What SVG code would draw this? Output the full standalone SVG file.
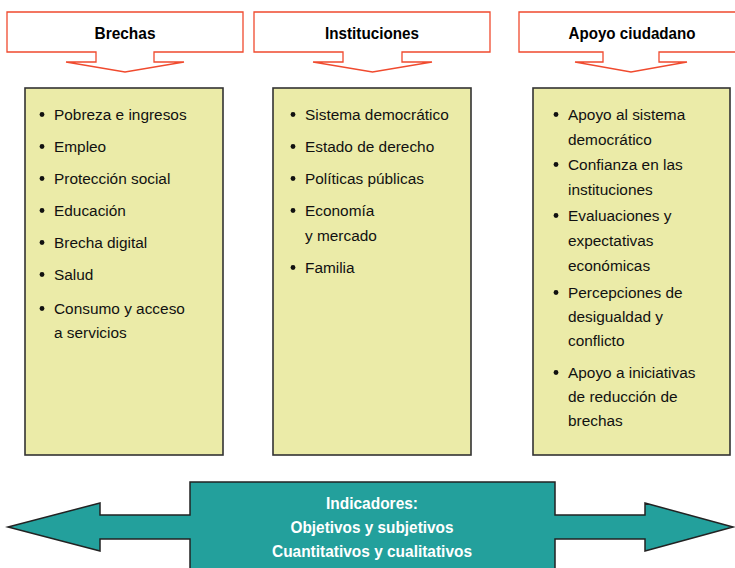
<svg xmlns="http://www.w3.org/2000/svg" width="735" height="568" viewBox="0 0 735 568">
<style>
.hdr{fill:#ffffff;stroke:#f04a2e;stroke-width:1.3}
.htxt{font-family:"Liberation Sans",Arial,sans-serif;font-weight:bold;font-size:17px;fill:#000;text-anchor:middle}
.box{fill:#ebeba8;stroke:#333333;stroke-width:1.6}
.t{font-family:"Liberation Sans",Arial,sans-serif;font-size:15.4px;fill:#111}
.b{fill:#111}
.ind{fill:#23a09c;stroke:#222;stroke-width:1.5}
.itxt{font-family:"Liberation Sans",Arial,sans-serif;font-weight:bold;font-size:16.5px;fill:#fff;text-anchor:middle}
</style>
<rect width="735" height="568" fill="#ffffff"/>

<g id="hdr-brechas">
<path class="hdr" d="M7,12 H243 V52 H154 V62 H184 L125,72 L66,62 H96 V52 H7 Z"/>
<text class="htxt" x="125" y="39" textLength="61" lengthAdjust="spacingAndGlyphs">Brechas</text>
</g>
<g id="hdr-instituciones">
<path class="hdr" d="M254,12 H490 V52 H402 V62 H432 L372.5,72 L313,62 H343 V52 H254 Z"/>
<text class="htxt" x="372" y="39" textLength="94" lengthAdjust="spacingAndGlyphs">Instituciones</text>
</g>
<g id="hdr-apoyo">
<path class="hdr" d="M519,12 H737 V52 H659 V62 H687 L631,72 L575,62 H603 V52 H519 Z"/>
<text class="htxt" x="632" y="39" textLength="127" lengthAdjust="spacingAndGlyphs">Apoyo ciudadano</text>
</g>

<g id="box-brechas">
<rect class="box" x="25" y="88" width="198" height="367"/>
<circle class="b" cx="42" cy="114.5" r="2.4"/><text class="t" x="54" y="120">Pobreza e ingresos</text>
<circle class="b" cx="42" cy="146.5" r="2.4"/><text class="t" x="54" y="152">Empleo</text>
<circle class="b" cx="42" cy="178.5" r="2.4"/><text class="t" x="54" y="184">Protección social</text>
<circle class="b" cx="42" cy="210.5" r="2.4"/><text class="t" x="54" y="216">Educación</text>
<circle class="b" cx="42" cy="242.5" r="2.4"/><text class="t" x="54" y="248">Brecha digital</text>
<circle class="b" cx="42" cy="274.5" r="2.4"/><text class="t" x="54" y="280">Salud</text>
<circle class="b" cx="42" cy="308.5" r="2.4"/><text class="t" x="54" y="314">Consumo y acceso</text>
<text class="t" x="54" y="338">a servicios</text>
</g>

<g id="box-instituciones">
<rect class="box" x="273" y="88" width="198" height="367"/>
<circle class="b" cx="293" cy="114.5" r="2.4"/><text class="t" x="305" y="120">Sistema democrático</text>
<circle class="b" cx="293" cy="146.5" r="2.4"/><text class="t" x="305" y="152">Estado de derecho</text>
<circle class="b" cx="293" cy="178.5" r="2.4"/><text class="t" x="305" y="184">Políticas públicas</text>
<circle class="b" cx="293" cy="210.5" r="2.4"/><text class="t" x="305" y="216">Economía</text>
<text class="t" x="305" y="241">y mercado</text>
<circle class="b" cx="293" cy="267.5" r="2.4"/><text class="t" x="305" y="273">Familia</text>
</g>

<g id="box-apoyo">
<rect class="box" x="533" y="88" width="197" height="367"/>
<circle class="b" cx="556" cy="114.5" r="2.4"/><text class="t" x="568" y="120">Apoyo al sistema</text>
<text class="t" x="568" y="145">democrático</text>
<circle class="b" cx="556" cy="164.5" r="2.4"/><text class="t" x="568" y="170">Confianza en las</text>
<text class="t" x="568" y="195">instituciones</text>
<circle class="b" cx="556" cy="215.5" r="2.4"/><text class="t" x="568" y="221">Evaluaciones y</text>
<text class="t" x="568" y="246">expectativas</text>
<text class="t" x="568" y="271">económicas</text>
<circle class="b" cx="556" cy="292.5" r="2.4"/><text class="t" x="568" y="298">Percepciones de</text>
<text class="t" x="568" y="322">desigualdad y</text>
<text class="t" x="568" y="346">conflicto</text>
<circle class="b" cx="556" cy="372.5" r="2.4"/><text class="t" x="568" y="378">Apoyo a iniciativas</text>
<text class="t" x="568" y="402">de reducción de</text>
<text class="t" x="568" y="426">brechas</text>
</g>

<g id="indicadores">
<path class="ind" d="M190,482 H555 V515 H645 V503 L733,527 L645,551 V539 H555 V572 H190 V539 H100 V551 L8,527 L100,503 V515 H190 Z"/>
<text class="itxt" x="372" y="509" textLength="92" lengthAdjust="spacingAndGlyphs">Indicadores:</text>
<text class="itxt" x="372" y="533" textLength="163" lengthAdjust="spacingAndGlyphs">Objetivos y subjetivos</text>
<text class="itxt" x="372" y="557" textLength="200" lengthAdjust="spacingAndGlyphs">Cuantitativos y cualitativos</text>
</g>
</svg>
